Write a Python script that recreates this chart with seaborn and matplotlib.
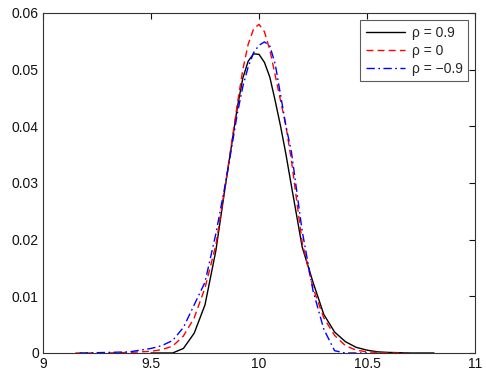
import numpy as np
import pandas as pd
import matplotlib
matplotlib.use("Agg")
import matplotlib.pyplot as plt
import seaborn as sns
from matplotlib.ticker import FuncFormatter

# ---- data ----
x_pos = [9.50, 9.60, 9.65, 9.70, 9.75, 9.80, 9.85, 9.90, 9.925, 9.95, 9.975, 10.00, 10.025,
         10.05, 10.075, 10.10, 10.125, 10.15, 10.20, 10.25, 10.30, 10.35, 10.40, 10.45,
         10.50, 10.55, 10.60, 10.70, 10.81]
y_pos = [0.0, 0.0, 0.0008, 0.0035, 0.0085, 0.018, 0.031, 0.0434, 0.0485, 0.0515, 0.0528,
         0.0527, 0.0513, 0.0487, 0.0445, 0.040, 0.035, 0.0295, 0.0187, 0.0125, 0.0068,
         0.0037, 0.002, 0.001, 0.0005, 0.0002, 0.0001, 0.0, 0.0]

x_zero = [9.15, 9.30, 9.40, 9.50, 9.55, 9.60, 9.65, 9.70, 9.75, 9.80, 9.85, 9.90, 9.925,
          9.95, 9.975, 10.00, 10.025, 10.05, 10.075, 10.10, 10.125, 10.15, 10.20, 10.25,
          10.30, 10.35, 10.40, 10.45, 10.50, 10.60, 10.68]
y_zero = [0.0, 0.0, 0.0001, 0.0003, 0.0006, 0.0012, 0.003, 0.0062, 0.0115, 0.019, 0.031,
          0.044, 0.050, 0.0545, 0.0572, 0.058, 0.0567, 0.0535, 0.049, 0.0445, 0.040, 0.034,
          0.0195, 0.0115, 0.0062, 0.0031, 0.0013, 0.0005, 0.0002, 0.0, 0.0]

x_neg = [9.17, 9.30, 9.40, 9.50, 9.55, 9.60, 9.65, 9.70, 9.75, 9.80, 9.85, 9.90, 9.925,
         9.95, 9.975, 10.00, 10.025, 10.05, 10.075, 10.10, 10.125, 10.15, 10.20, 10.25,
         10.30, 10.35, 10.40, 10.50]
y_neg = [0.0, 0.0001, 0.0002, 0.0008, 0.0013, 0.0022, 0.0045, 0.0085, 0.0125, 0.021, 0.031,
         0.0423, 0.047, 0.0505, 0.053, 0.0543, 0.0549, 0.0542, 0.051, 0.0455, 0.040, 0.0355,
         0.0215, 0.011, 0.0042, 0.0004, 0.0, 0.0]

labels = ["ρ = 0.9", "ρ = 0", "ρ = −0.9"]
x_ticks = [9, 9.5, 10, 10.5, 11]
y_ticks = [0, 0.01, 0.02, 0.03, 0.04, 0.05, 0.06]

df = pd.concat([
    pd.DataFrame({"x": x_pos, "y": y_pos, "series": labels[0]}),
    pd.DataFrame({"x": x_zero, "y": y_zero, "series": labels[1]}),
    pd.DataFrame({"x": x_neg, "y": y_neg, "series": labels[2]}),
], ignore_index=True)

sns.set_theme(style="white")
plt.rcParams["font.family"] = ["Liberation Sans", "DejaVu Sans"]
plt.rcParams["axes.unicode_minus"] = True

fig = plt.figure(figsize=(4.86, 3.78), dpi=100)
ax = fig.add_axes([43 / 486, 25 / 378, 432 / 486, 340 / 378])

palette = {labels[0]: "black", labels[1]: "#ff0000", labels[2]: "#0000ff"}
dashes = {labels[0]: "", labels[1]: (5, 3), labels[2]: (6, 2.5, 1.2, 2.5)}
sns.lineplot(data=df, x="x", y="y", hue="series", style="series",
             palette=palette, dashes=dashes, estimator=None, sort=False,
             linewidth=1.0, ax=ax)

ax.set_xlim(9, 11)
ax.set_ylim(0, 0.06)
ax.set_xticks(x_ticks)
ax.set_yticks(y_ticks)
ax.xaxis.set_major_formatter(FuncFormatter(lambda v, p: f"{v:g}"))
ax.yaxis.set_major_formatter(FuncFormatter(lambda v, p: f"{v:g}"))
ax.set_xlabel("")
ax.set_ylabel("")
ax.tick_params(direction="in", length=4, width=0.8, top=True, right=True,
               labelsize=10, colors="#111111", pad=3)
for s in ax.spines.values():
    s.set_color("#333333")
    s.set_linewidth(0.8)

leg = ax.legend(loc="upper right", fontsize=10, frameon=True, fancybox=False,
                edgecolor="#333333", handlelength=2.8, borderpad=0.4,
                labelspacing=0.3, handletextpad=0.5, borderaxespad=0.5)
leg.get_frame().set_linewidth(0.8)

fig.savefig("out.png", dpi=100)
